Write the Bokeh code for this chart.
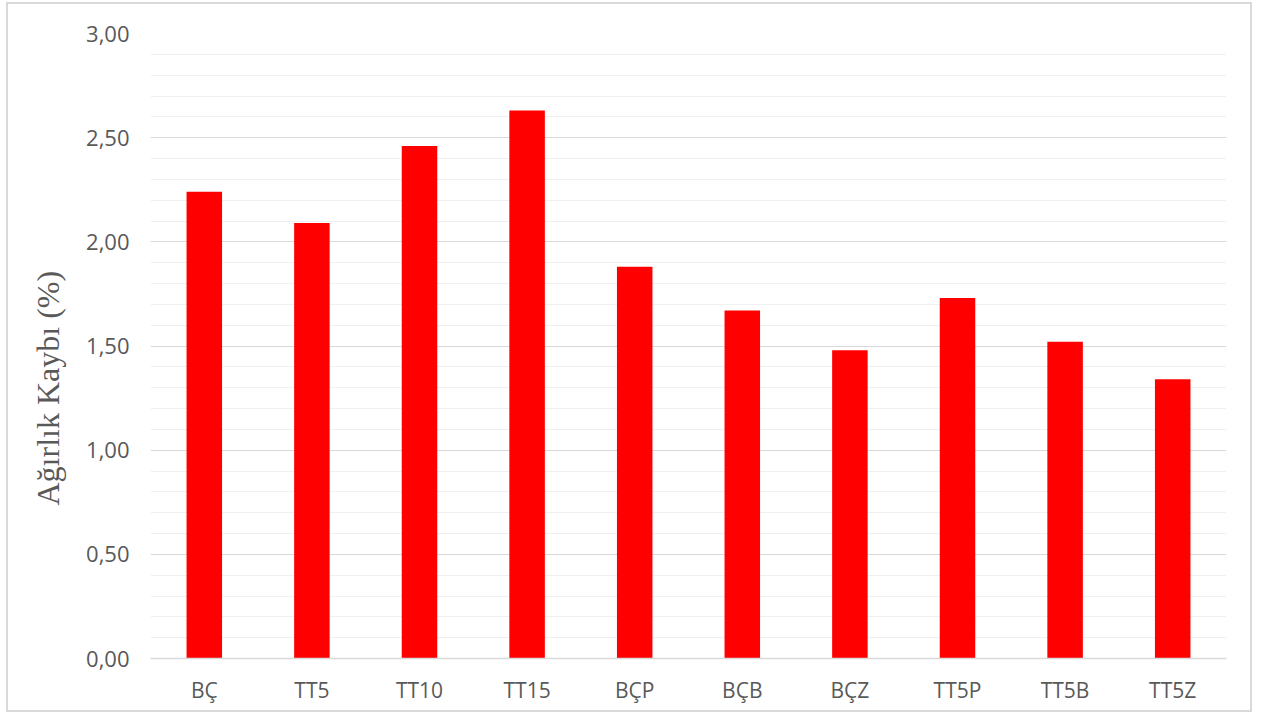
from bokeh.plotting import figure
from bokeh.models import ColumnDataSource, FixedTicker, CustomJSTickFormatter, Range1d, Title
from bokeh.embed import file_html
from bokeh.resources import INLINE

categories = ["BÇ", "TT5", "TT10", "TT15", "BÇP", "BÇB", "BÇZ", "TT5P", "TT5B", "TT5Z"]
values = [2.24, 2.09, 2.46, 2.63, 1.88, 1.67, 1.48, 1.73, 1.52, 1.34]
y_major = [0.0, 0.5, 1.0, 1.5, 2.0, 2.5, 3.0]
y_minor = [0.1, 0.2, 0.3, 0.4, 0.6, 0.7, 0.8, 0.9, 1.1, 1.2, 1.3, 1.4, 1.6, 1.7, 1.8, 1.9,
           2.1, 2.2, 2.3, 2.4, 2.6, 2.7, 2.8, 2.9]
y_title = "Ağırlık Kaybı (%)"

source = ColumnDataSource(data=dict(cat=categories, val=values))

p = figure(x_range=categories, y_range=Range1d(0, 3), width=1246, height=710,
           output_backend="svg", toolbar_location=None,
           min_border_left=142, min_border_right=28, min_border_top=29, min_border_bottom=56)
p.styles = {"border": "2px solid #d9d9d9", "margin": "2px 0 0 6px"}

p.vbar(x="cat", top="val", width=0.33, source=source, color="#ff0000", line_color=None)

p.outline_line_color = None
p.xgrid.grid_line_color = None
p.ygrid.ticker = FixedTicker(ticks=y_major, minor_ticks=y_minor)
p.ygrid.grid_line_color = "#d9d9d9"
p.ygrid.grid_line_width = 1
p.ygrid.minor_grid_line_color = "#f0f0f0"
p.ygrid.minor_grid_line_width = 1

p.yaxis.ticker = FixedTicker(ticks=y_major, minor_ticks=y_minor)
p.yaxis.formatter = CustomJSTickFormatter(code="return tick.toFixed(2).replace('.', ',');")
p.yaxis.axis_line_color = None
p.yaxis.major_tick_line_color = None
p.yaxis.minor_tick_line_color = None
p.yaxis.major_label_text_font = "Open Sans"
p.yaxis.major_label_text_font_size = "22px"
p.yaxis.major_label_text_color = "#595959"
p.yaxis.major_label_standoff = 15

ytitle = Title(text=y_title, align="left", offset=153, standoff=36,
               text_font="Liberation Serif", text_font_size="32px",
               text_font_style="normal", text_color="#595959")
p.add_layout(ytitle, "left")

p.xaxis.axis_line_color = "#d9d9d9"
p.xaxis.axis_line_width = 1.5
p.xaxis.major_tick_line_color = None
p.xaxis.minor_tick_line_color = None
p.xaxis.major_label_text_font = "Open Sans"
p.xaxis.major_label_text_font_size = "21px"
p.xaxis.major_label_text_color = "#595959"
p.xaxis.major_label_standoff = 11

p.background_fill_color = "white"
p.border_fill_color = "white"

open("out.html", "w").write(file_html(p, INLINE))
